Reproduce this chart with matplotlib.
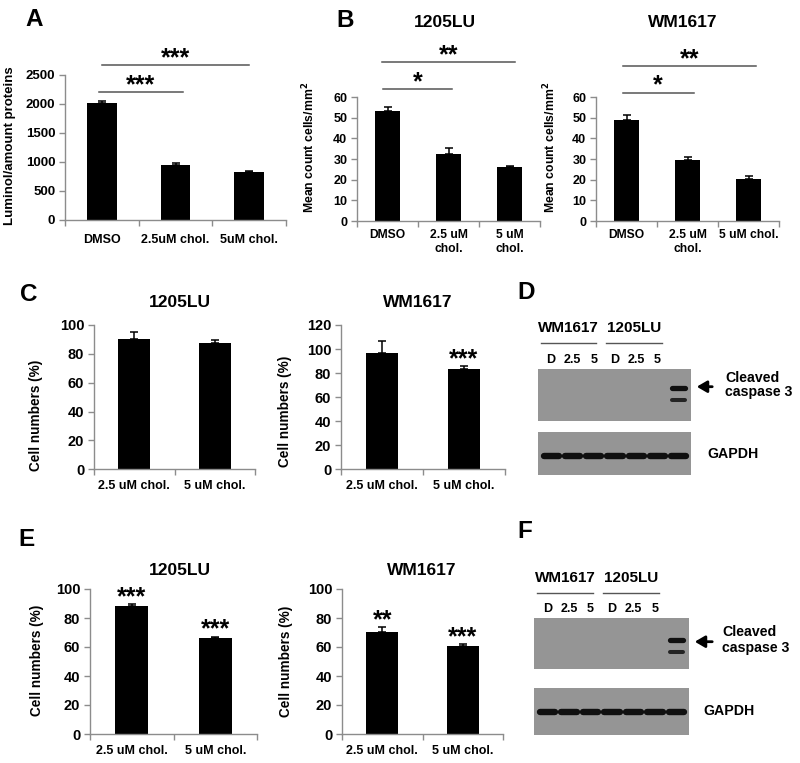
import matplotlib
matplotlib.use('Agg')
import matplotlib.pyplot as plt
import numpy as np

plt.rcParams['font.family'] = ['Liberation Sans', 'DejaVu Sans']
plt.rcParams['font.weight'] = 'bold'
plt.rcParams['axes.labelweight'] = 'bold'

# ---------------- data ----------------
a_cats = ['DMSO', '2.5uM chol.', '5uM chol.']
a_vals = [2015, 955, 820]
a_errs = [37, 25, 30]

b_cats_1205 = ['DMSO', '2.5 uM\nchol.', '5 uM\nchol.']
b_cats_wm = ['DMSO', '2.5 uM\nchol.', '5 uM chol.']
b1205_vals = [53.4, 32.5, 26.3]
b1205_errs = [1.8, 2.8, 0.5]
bwm_vals = [48.9, 29.5, 20.5]
bwm_errs = [2.4, 1.6, 1.2]

ce_cats = ['2.5 uM chol.', '5 uM chol.']
c1205_vals = [90.1, 87.7]
c1205_errs = [5.3, 1.7]
cwm_vals = [96.5, 83.2]
cwm_errs = [10.2, 2.7]
cwm_stars = ['', '***']
e1205_vals = [88.3, 66.2]
e1205_errs = [1.3, 1.0]
e1205_stars = ['***', '***']
ewm_vals = [70.1, 60.9]
ewm_errs = [3.4, 1.0]
ewm_stars = ['**', '***']

# significance brackets: (from, to, height, label)
a_brackets = [(-0.04, 1.1, 2207, '***'), (0.0, 2.0, 2672, '***')]
b1205_brackets = [(-0.07, 1.05, 63.9, '*'), (-0.09, 2.09, 76.9, '**')]
bwm_brackets = [(-0.06, 1.1, 62.1, '*'), (-0.06, 2.12, 75.0, '**')]

# western blots
lane_labels = ['D', '2.5', '5', 'D', '2.5', '5']
cell_groups = [('WM1617', -0.48, 2.12), ('1205LU', 2.6, 5.21)]
casp_upper = [0, 0, 0, 0, 0, 0, 1.0]
casp_lower = [0, 0, 0, 0, 0, 0, 0.85]
gapdh = [1.0, 1.0, 1.0, 1.0, 1.0, 1.0, 1.0]

# ---------------- layout helpers ----------------
W, H = 800, 763
fig = plt.figure(figsize=(8, 7.63), dpi=100)
PX = 100 / 72.0
SPINE = '#8c8c8c'


def add_ax(l, t, r, b):
    return fig.add_axes([l / W, 1 - b / H, (r - l) / W, (b - t) / H])


def ftext(x, y, s, size, ha='center', **kw):
    # y = vertical centre of capital letters (pixels from top)
    yb = y + 0.358 * size * PX
    fig.text(x / W, 1 - yb / H, s, fontsize=size, ha=ha, va='baseline',
             fontweight='bold', **kw)


STAR_FS = 18
STAR_OFF = 0.0


def bar_panel(box, cats, vals, errs, ylim, yticks, ylabel, ylab_xy,
              tick_fs, cat_fs, ylab_fs, cat_pad, stars=None, brackets=None,
              linespacing=1.2):
    ax = add_ax(*box)
    x = np.arange(len(cats))
    ax.bar(x, vals, width=0.4, color='black', zorder=2)
    ax.errorbar(x, vals, yerr=[np.zeros(len(errs)), errs], fmt='none',
                ecolor='black', elinewidth=1.1, capsize=3, capthick=1.1,
                zorder=3)
    ax.set_xlim(-0.5, len(cats) - 0.5)
    ax.set_ylim(*ylim)
    ax.set_yticks(yticks)
    ax.set_yticklabels([str(t) for t in yticks], fontsize=tick_fs,
                       fontweight='bold')
    ax.set_xticks(x)
    ax.set_xticklabels(cats, fontsize=cat_fs, fontweight='bold',
                       linespacing=linespacing)
    ax.set_xticks(np.arange(len(cats) + 1) - 0.5, minor=True)
    ax.tick_params(axis='x', which='major', length=0, pad=cat_pad)
    ax.tick_params(axis='x', which='minor', length=4, color=SPINE,
                   width=1, direction='out')
    ax.tick_params(axis='y', length=4, color=SPINE, width=1,
                   direction='out', pad=3)
    for s in ['top', 'right']:
        ax.spines[s].set_visible(False)
    for s in ['left', 'bottom']:
        ax.spines[s].set_color(SPINE)
        ax.spines[s].set_linewidth(1)
    ax.set_ylabel(ylabel, fontsize=ylab_fs, fontweight='bold')
    ax.yaxis.set_label_coords(*ylab_xy)
    ax.patch.set_alpha(0)
    if stars is not None:
        for xi, v, e, s in zip(x, vals, errs, stars):
            if s:
                ax.annotate(s, (xi, v + e), xytext=(0, STAR_OFF),
                            textcoords='offset points', ha='center',
                            va='baseline', fontsize=STAR_FS, fontweight='bold',
                            annotation_clip=False)
    if brackets is not None:
        for x0, x1, yv, s in brackets:
            ax.plot([x0, x1], [yv, yv], color='#555555', lw=1.1,
                    clip_on=False)
            ax.annotate(s, ((x0 + x1) / 2, yv), xytext=(0, STAR_OFF),
                        textcoords='offset points', ha='center',
                        va='baseline', fontsize=STAR_FS, fontweight='bold',
                        annotation_clip=False)
    return ax


# ---------------- panel A ----------------
bar_panel((65, 75, 286, 220), a_cats, a_vals, a_errs, (0, 2500),
          [0, 500, 1000, 1500, 2000, 2500], 'Luminol/amount proteins',
          (-0.222, 0.51), 9.5, 9, 9.5, 10, brackets=a_brackets)

# ---------------- panel B ----------------
bar_panel((357, 97, 540, 221), b_cats_1205, b1205_vals, b1205_errs,
          (0, 60), [0, 10, 20, 30, 40, 50, 60], 'Mean count cells/mm$^{2}$',
          (-0.219, 0.593), 9, 8.7, 8.8, 6, brackets=b1205_brackets)
bar_panel((596, 97, 779, 221), b_cats_wm, bwm_vals, bwm_errs,
          (0, 60), [0, 10, 20, 30, 40, 50, 60], 'Mean count cells/mm$^{2}$',
          (-0.208, 0.593), 9, 8.7, 8.8, 6, brackets=bwm_brackets)

# ---------------- panel C ----------------
bar_panel((94, 325, 255, 469.3), ce_cats, c1205_vals, c1205_errs,
          (0, 100), [0, 20, 40, 60, 80, 100], 'Cell numbers (%)',
          (-0.314, 0.375), 10.5, 9, 9.8, 8)
bar_panel((341, 325, 505, 469.3), ce_cats, cwm_vals, cwm_errs,
          (0, 120), [0, 20, 40, 60, 80, 100, 120], 'Cell numbers (%)',
          (-0.30, 0.398), 10.5, 9, 9.8, 8, stars=cwm_stars)

# ---------------- panel E ----------------
bar_panel((90, 589, 257, 734), ce_cats, e1205_vals, e1205_errs,
          (0, 100), [0, 20, 40, 60, 80, 100], 'Cell numbers (%)',
          (-0.277, 0.51), 10.5, 9, 9.8, 8, stars=e1205_stars)
bar_panel((342, 589, 503, 734), ce_cats, ewm_vals, ewm_errs,
          (0, 100), [0, 20, 40, 60, 80, 100], 'Cell numbers (%)',
          (-0.307, 0.503), 10.5, 9, 9.8, 8, stars=ewm_stars)

# ---------------- titles & panel letters ----------------
for s, x, y in [('1205LU', 445, 21), ('WM1617', 683, 21),
                ('1205LU', 180, 300.5), ('WM1617', 418, 301),
                ('1205LU', 180, 569), ('WM1617', 422, 569)]:
    ftext(x, y, s, 12.5)
for s, x, y in [('A', 34, 17), ('B', 345, 18), ('C', 29, 292),
                ('D', 526, 290), ('E', 27, 537), ('F', 525, 529)]:
    ftext(x, y, s, 17.5)


# ---------------- western blots ----------------
def band_row(ax, lanes_int, yv, lw, hw):
    for i, v in enumerate(lanes_int):
        if v > 0:
            ax.plot([i - hw, i + hw], [yv, yv], color='#101010', lw=lw,
                    alpha=v, solid_capstyle='round')


def blot_panel(box1, box2, up_y, low_y, g_y, lab_y, grp_y, line_y,
               arrow_y, arr_x0, arr_x1, txt_x, cl_y, cs_y, g_txt_x, g_txt_y):
    ax1 = add_ax(*box1)
    ax2 = add_ax(*box2)
    for ax in (ax1, ax2):
        ax.set_xlim(-0.62, 6.58)
        ax.set_ylim(0, 1)
        ax.set_facecolor('#959595')
        ax.set_xticks([])
        ax.set_yticks([])
        for s in ax.spines.values():
            s.set_visible(False)
    band_row(ax1, casp_upper, up_y, 3.8, 0.3)
    band_row(ax1, casp_lower, low_y, 2.9, 0.3)
    band_row(ax2, gapdh, g_y, 4.6, 0.36)
    tr = ax1.get_xaxis_transform()
    for i, s in enumerate(lane_labels):
        ax1.text(i, lab_y, s, transform=tr, ha='center', va='center',
                 fontsize=9, fontweight='bold')
    for name, x0, x1 in cell_groups:
        ax1.text((x0 + x1) / 2, grp_y, name, transform=tr, ha='center',
                 va='center', fontsize=11, fontweight='bold')
        ax1.plot([x0, x1], [line_y, line_y], transform=tr, color='#555555',
                 lw=1, clip_on=False)
    fig.add_artist(matplotlib.patches.FancyArrowPatch(
        (arr_x0 / W, 1 - arrow_y / H), (arr_x1 / W, 1 - arrow_y / H),
        transform=fig.transFigure, arrowstyle='-|>,head_length=6,head_width=3.5',
        color='black', lw=2, mutation_scale=1))
    ftext(txt_x, cl_y, 'Cleaved', 10.2, ha='left')
    ftext(txt_x, cs_y, 'caspase 3', 10.2, ha='left')
    ftext(g_txt_x, g_txt_y, 'GAPDH', 10.2, ha='left')


blot_panel((538, 369, 691, 421), (538, 432.3, 691, 475),
           0.635, 0.404, 0.452, 1.18, 1.79, 1.506,
           386.7, 715, 694, 725, 376.7, 391, 707, 453)
blot_panel((534.3, 618.3, 688.7, 669.3), (534.3, 688.3, 688.7, 735),
           0.565, 0.34, 0.493, 1.18, 1.79, 1.50,
           641.7, 715, 692, 722, 630.5, 646.5, 703, 710)

fig.savefig('out.png', dpi=100)
